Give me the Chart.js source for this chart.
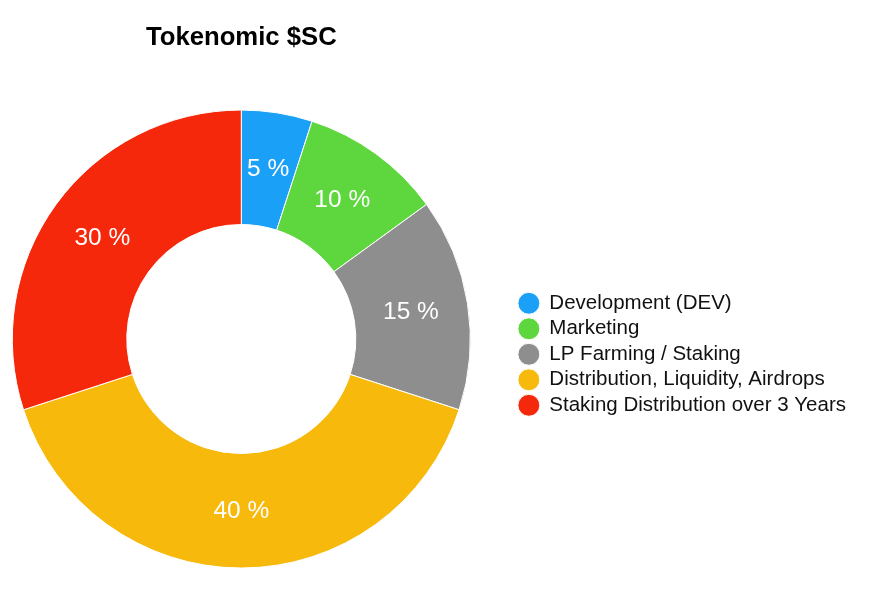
<!DOCTYPE html>
<html>
<head>
<meta charset="utf-8">
<script src="https://cdn.jsdelivr.net/npm/chart.js@4.4.1/dist/chart.umd.min.js"></script>
<style>
  html, body { margin: 0; padding: 0; background: #fff; overflow: hidden; }
  /* canvas is a bit wider than the page and pulled left so the ring sits where the original has it */
  #chart { display: block; margin-left: -31px; }
</style>
</head>
<body>
<canvas id="chart" width="912" height="595"></canvas>
<script>
// data
const categories = [
  'Development (DEV)',
  'Marketing',
  'LP Farming / Staking',
  'Distribution, Liquidity, Airdrops',
  'Staking Distribution over 3 Years'
];
const shares = [5, 10, 15, 40, 30];
const sliceColors = ['#1BA0F7', '#5ED63D', '#8E8E8E', '#F7B90C', '#F6280B'];

const FONT = '"Liberation Sans", Arial, Helvetica, sans-serif';

// percent labels in the middle of each slice
const sliceLabels = {
  id: 'sliceLabels',
  afterDatasetsDraw(chart) {
    const ctx = chart.ctx;
    const meta = chart.getDatasetMeta(0);
    ctx.save();
    ctx.font = '24.5px ' + FONT;
    ctx.fillStyle = '#fff';
    ctx.textAlign = 'center';
    ctx.textBaseline = 'middle';
    meta.data.forEach((arc, i) => {
      const p = arc.getProps(['x', 'y', 'startAngle', 'endAngle', 'innerRadius', 'outerRadius'], true);
      const mid = (p.startAngle + p.endAngle) / 2;
      const r = (p.innerRadius + p.outerRadius) / 2;
      ctx.fillText(shares[i] + ' %', p.x + Math.cos(mid) * r, p.y + Math.sin(mid) * r);
    });
    ctx.restore();
  }
};

new Chart(document.getElementById('chart'), {
  type: 'doughnut',
  data: {
    labels: categories,
    datasets: [{
      data: shares,
      backgroundColor: sliceColors,
      borderColor: '#fff',
      borderWidth: 1
    }]
  },
  options: {
    responsive: false,
    animation: false,
    radius: 229,
    cutout: '50%',
    layout: { padding: { left: 0, right: 25, top: 0, bottom: 0 } },
    plugins: {
      title: {
        display: true,
        text: 'Tokenomic $SC',
        fullSize: false,
        color: '#000',
        font: { family: FONT, size: 25.7, weight: 'bold' },
        padding: { top: 22, bottom: 30.2 }
      },
      legend: {
        position: 'right',
        // empty legend title only pushes the items down to where they sit in the original
        title: { display: true, text: ' ', font: { size: 10 }, padding: { top: 101.6, bottom: 0 } },
        labels: {
          usePointStyle: true,
          pointStyle: 'circle',
          boxWidth: 20.5,
          boxHeight: 15.5,
          padding: 5,
          color: '#111',
          font: { family: FONT, size: 20.5 }
        }
      },
      tooltip: { enabled: false }
    }
  },
  plugins: [sliceLabels]
});
</script>
</body>
</html>
